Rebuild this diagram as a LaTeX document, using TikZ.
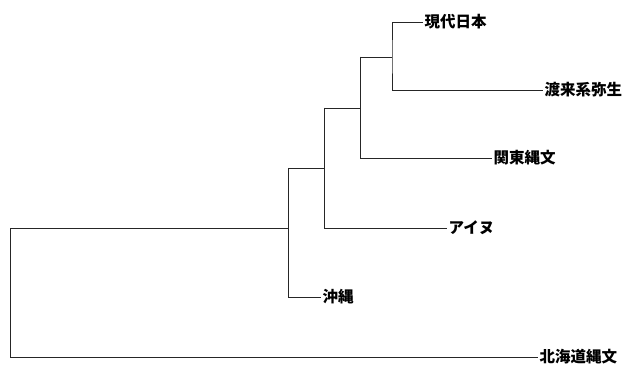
\documentclass[tikz,border=0pt]{standalone}
\usepackage{fontspec}
\newfontfamily\jpfont{Noto Sans CJK JP}
\begin{document}
\begin{tikzpicture}[x=1pt,y=-1pt,
  branch/.style={draw=black!85,line width=0.9pt},
  leaf/.style={anchor=west,inner sep=1.5pt,font=\jpfont\bfseries\fontsize{15.5}{17}\selectfont}]
\useasboundingbox (0,0) rectangle (623,374);
% leaves
\node[leaf] (gendai) at (423,22) {現代日本};
\node[leaf] (torai) at (543,90) {渡来系弥生};
\node[leaf] (kanto) at (492,158) {関東縄文};
\node[leaf] (ainu) at (447,228) {アイヌ};
\node[leaf] (okinawa) at (321,297) {沖縄};
\node[leaf] (hokkaido) at (538,357) {北海道縄文};
% internal nodes
\coordinate (A) at (392,57);
\coordinate (B) at (360,108);
\coordinate (D) at (324,168);
\coordinate (E) at (288,228);
\coordinate (R) at (10,228);
% branches
\draw[branch] (gendai.west) -| (A) |- (torai.west);
\draw[branch] (A) -- (A -| B);
\draw[branch] (B |- A) |- (kanto.west);
\draw[branch] (B |- A) -- (B);
\draw[branch] (B) -- (B -| D);
\draw[branch] (D |- B) |- (ainu.west);
\draw[branch] (D |- B) -- (D);
\draw[branch] (D) -- (D -| E);
\draw[branch] (E |- D) |- (okinawa.west);
\draw[branch] (E) -- (R) |- (hokkaido.west);
\end{tikzpicture}
\end{document}
